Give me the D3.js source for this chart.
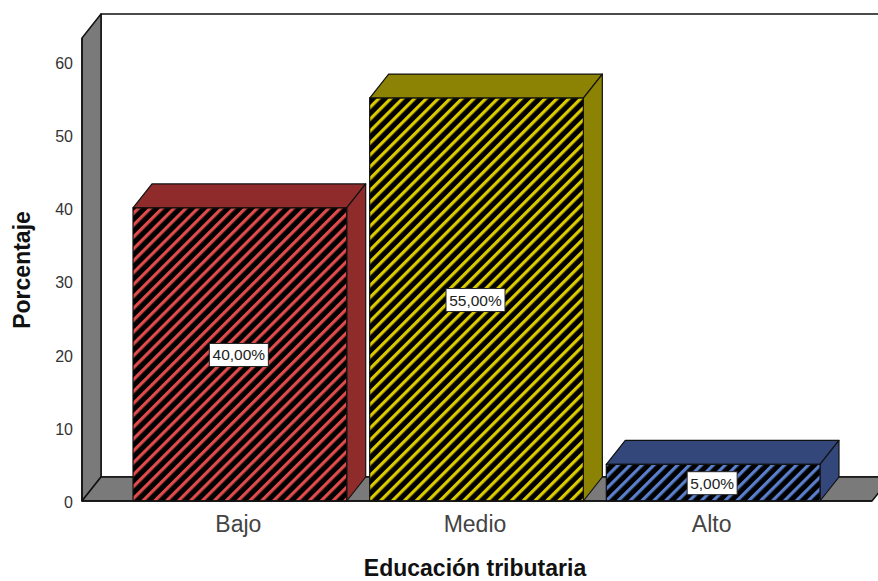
<!DOCTYPE html>
<html><head><meta charset="utf-8">
<script src="https://cdn.jsdelivr.net/npm/d3@7"></script>
<style>html,body{margin:0;padding:0;background:#fff;overflow:hidden}svg{display:block}text{font-family:"Liberation Sans",Arial,sans-serif}</style>
</head><body><svg width="878" height="581"></svg>
<script>
const categories = ["Bajo", "Medio", "Alto"];
const values = [40, 55, 5];
const valueLabels = ["40,00%", "55,00%", "5,00%"];
const yTicks = [0, 10, 20, 30, 40, 50, 60];
const stripeColors = ["#e04c4c", "#dccb00", "#5a7fcc"];
const sideColors = ["#8f2b2b", "#8c8204", "#33477a"];

const svg = d3.select("svg");
const dx = 19, dy = -24;
const y = d3.scaleLinear().domain([0, 63.2]).range([501, 38]);
const x = d3.scaleBand().domain(categories).range([121.5, 831.5]).paddingInner(0.097).paddingOuter(0.0486);
const left = 82, right = 872, y0 = y(0), yTop = y(63.2);
const grey = "#7a7a7a", ink = "#111";

const defs = svg.append("defs");
categories.forEach((c, i) => {
  const p = defs.append("pattern").attr("id", "hatch" + i).attr("patternUnits", "userSpaceOnUse")
    .attr("width", 8.4).attr("height", 8.4).attr("patternTransform", "rotate(45)");
  p.append("rect").attr("width", 8.4).attr("height", 8.4).attr("fill", "#000");
  p.append("rect").attr("width", 3.2).attr("height", 8.4).attr("fill", stripeColors[i]);
});

const poly = (pts, fill) => svg.append("path").attr("d", d3.line()(pts) + "Z")
  .attr("fill", fill).attr("stroke", ink).attr("stroke-width", 1.5).attr("stroke-linejoin", "round");

// walls
poly([[left + dx, yTop + dy], [right + dx + 30, yTop + dy], [right + dx + 30, y0 + dy], [left + dx, y0 + dy]], "#fff");
poly([[left, yTop], [left + dx, yTop + dy], [left + dx, y0 + dy], [left, y0]], grey);
poly([[left, y0], [left + dx, y0 + dy], [right + dx, y0 + dy], [right, y0]], grey);

// bars
const bars = svg.selectAll("g.bar").data(categories).join("g").attr("class", "bar");
bars.each(function (c, i) {
  const g = d3.select(this), a = x(c), b = a + x.bandwidth(), t = y(values[i]);
  const pg = (pts, fill) => g.append("path").attr("d", d3.line()(pts) + "Z").attr("fill", fill)
    .attr("stroke", ink).attr("stroke-width", 1.2).attr("stroke-linejoin", "round");
  pg([[a, t], [a + dx, t + dy], [b + dx, t + dy], [b, t]], sideColors[i]);
  pg([[b, t], [b + dx, t + dy], [b + dx, y0 + dy], [b, y0]], sideColors[i]);
  g.append("rect").attr("x", a).attr("y", t).attr("width", b - a).attr("height", y0 - t)
    .attr("fill", `url(#hatch${i})`).attr("stroke", ink).attr("stroke-width", 1.2);
  const cy = (t + y0) / 2 + 0.5, cx = (a + b) / 2 - 1;
  const w = i === 2 ? 50 : 59;
  g.append("rect").attr("x", cx - w / 2).attr("y", cy - 11.5).attr("width", w).attr("height", 23)
    .attr("fill", "#fff").attr("stroke", "#222").attr("stroke-width", 1);
  g.append("text").attr("x", cx).attr("y", cy + 5.5).attr("text-anchor", "middle")
    .attr("font-size", 15.5).attr("fill", "#222").text(valueLabels[i]);
});

// axes
const ya = svg.append("g").attr("transform", `translate(${left},1.5)`)
  .call(d3.axisLeft(y).tickValues(yTicks).tickFormat(d3.format("d")).tickSize(0).tickPadding(9));
ya.select(".domain").remove();
ya.selectAll("text").attr("font-size", 16).attr("fill", "#333").style("font-family", '"Liberation Sans",Arial,sans-serif');

const xa = svg.append("g").attr("transform", `translate(-1.5,${y0})`)
  .call(d3.axisBottom(x).tickSize(0).tickPadding(15));
xa.select(".domain").remove();
xa.selectAll("text").attr("font-size", 23).attr("fill", "#444").style("font-family", '"Liberation Sans",Arial,sans-serif');

svg.append("line").attr("x1", left).attr("x2", left).attr("y1", yTop).attr("y2", y0).attr("stroke", ink).attr("stroke-width", 1.5);
svg.append("line").attr("x1", left).attr("x2", right).attr("y1", y0).attr("y2", y0).attr("stroke", ink).attr("stroke-width", 1.5);

svg.append("text").attr("x", 475).attr("y", 576).attr("text-anchor", "middle")
  .attr("font-size", 23).attr("font-weight", "bold").attr("fill", "#111").text("Educación tributaria");
svg.append("text").attr("transform", "translate(30,270) rotate(-90)").attr("text-anchor", "middle")
  .attr("font-size", 23).attr("font-weight", "bold").attr("fill", "#111").text("Porcentaje");
</script></body></html>
